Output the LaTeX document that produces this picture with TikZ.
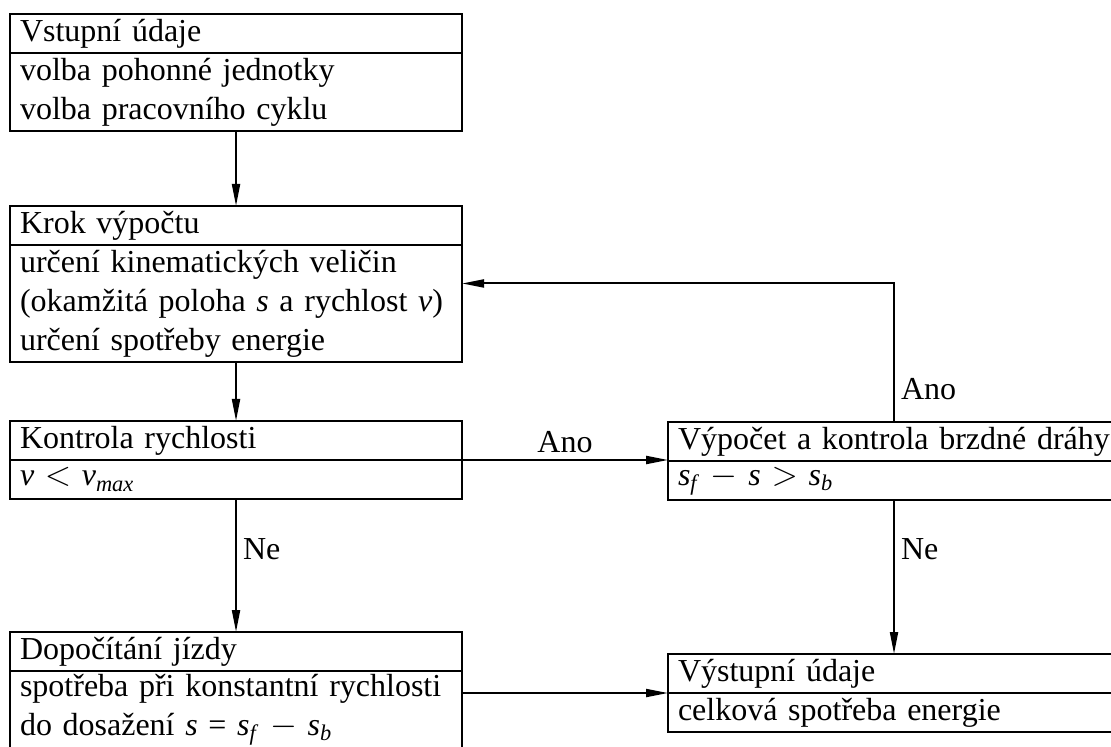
\documentclass[tikz,border=0pt]{standalone}
\usepackage{fontspec}
\setmainfont{Liberation Serif}
\usetikzlibrary{positioning,arrows.meta}

\newcommand{\iv}[1]{\textit{#1}}

\begin{document}
\begin{tikzpicture}[x=0.5pt,y=-0.5pt,line width=1pt,
    every node/.style={font=\fontsize{16}{19.5}\selectfont},
    head/.style={draw,rectangle,minimum width=226pt,text width=216pt,minimum height=19.5pt,
        inner xsep=5pt,inner ysep=0pt,outer sep=0pt,align=left,anchor=north west},
    body/.style={head,minimum height=#1*19.5pt},
    arr/.style={-{Triangle[length=11pt,width=4pt]}},
    lbl/.style={inner sep=3pt}]
        \path[use as bounding box,clip] (0,0) rectangle (1111,747);

        %##### left column
        \node[head] (vh) at (10,14) {Vstupní údaje};
        \node[body=2,below=0pt of vh] (vb) {volba pohonné jednotky\\volba pracovního cyklu};

        \node[head] (kh) at (10,206) {Krok výpočtu};
        \node[body=3,below=0pt of kh] (kb) {určení kinematických veličin\\(okamžitá poloha \iv{s} a rychlost \iv{v})\\určení spotřeby energie};

        \node[head] (rh) at (10,421) {Kontrola rychlosti};
        \node[body=1,below=0pt of rh] (rb) {\iv{v} $<$ \iv{v}\textsubscript{\iv{max}}};

        \node[head] (dh) at (10,632) {Dopočítání jízdy};
        \node[body=2,below=0pt of dh] (db) {spotřeba při konstantní rychlosti\\do dosažení \iv{s} = \iv{s}\textsubscript{\iv{f}} $-$ \iv{s}\textsubscript{\iv{b}}};

        %##### right column
        \node[head] (bh) at (668,422) {\mbox{Výpočet a kontrola brzdné dráhy}};
        \node[body=1,below=0pt of bh] (bb) {\iv{s}\textsubscript{\iv{f}} $-$ \iv{s} $>$ \iv{s}\textsubscript{\iv{b}}};

        \node[head] (oh) at (668,654) {Výstupní údaje};
        \node[body=1,below=0pt of oh] (ob) {celková spotřeba energie};

        %##### connectors
        \draw[arr] (vb) -- (kh);
        \draw[arr] (kb) -- (rh);
        \draw[arr] (rb) -- node[lbl,right,pos=0.38]{Ne} (dh);
        \draw[arr] (rb.north east) -- node[lbl,above]{Ano} (rb.north east -| bh.west);
        \draw[arr] (bh.north) |- node[lbl,right,pos=0.12]{Ano} ([yshift=10pt]kb.east);
        \draw[arr] (bb) -- node[lbl,right,pos=0.32]{Ne} (oh);
        \draw[arr] (db.east |- oh.south west) -- (oh.south west);
\end{tikzpicture}
\end{document}
